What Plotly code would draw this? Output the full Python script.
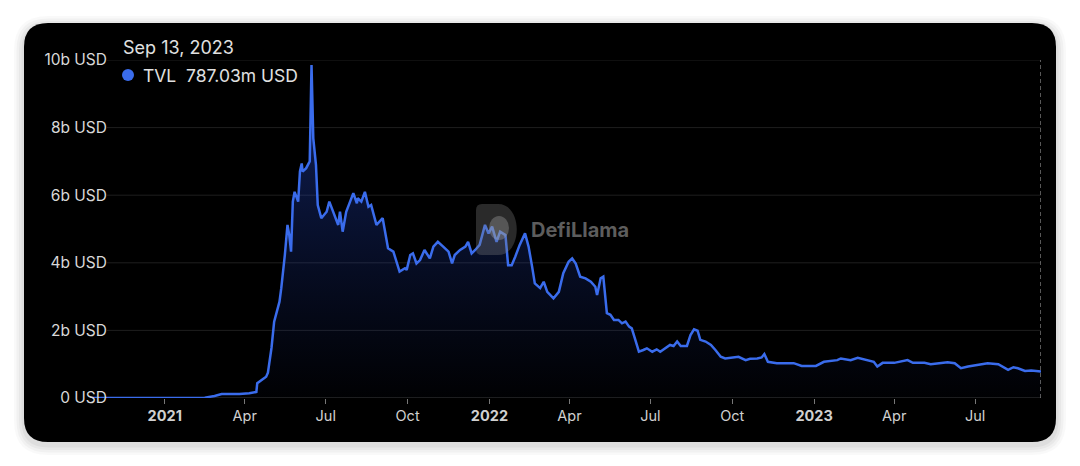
import plotly.graph_objects as go

W, H = 1080, 466

dates = [
    "2020-10-09", "2020-12-15", "2021-02-15", "2021-02-26", "2021-03-06", "2021-03-26",
    "2021-04-06", "2021-04-14", "2021-04-15", "2021-04-25", "2021-04-27", "2021-05-01",
    "2021-05-04", "2021-05-10", "2021-05-12", "2021-05-16", "2021-05-19", "2021-05-21",
    "2021-05-23", "2021-05-25", "2021-05-27", "2021-05-31", "2021-06-02", "2021-06-04",
    "2021-06-05", "2021-06-09", "2021-06-13", "2021-06-15", "2021-06-17", "2021-06-20",
    "2021-06-22", "2021-06-26", "2021-07-02", "2021-07-05", "2021-07-09", "2021-07-15",
    "2021-07-17", "2021-07-20", "2021-07-24", "2021-07-28", "2021-08-01", "2021-08-05",
    "2021-08-06", "2021-08-10", "2021-08-14", "2021-08-18", "2021-08-21", "2021-08-27",
    "2021-09-03", "2021-09-05", "2021-09-09", "2021-09-15", "2021-09-19", "2021-09-22",
    "2021-09-28", "2021-09-30", "2021-10-04", "2021-10-07", "2021-10-11", "2021-10-15",
    "2021-10-20", "2021-10-26", "2021-10-30", "2021-11-04", "2021-11-10", "2021-11-16",
    "2021-11-20", "2021-11-23", "2021-11-29", "2021-12-05", "2021-12-08", "2021-12-12",
    "2021-12-16", "2021-12-21", "2021-12-27", "2021-12-31", "2022-01-04", "2022-01-09",
    "2022-01-13", "2022-01-19", "2022-01-22", "2022-01-26", "2022-01-30", "2022-02-04",
    "2022-02-10", "2022-02-14", "2022-02-18", "2022-02-21", "2022-02-27", "2022-03-03",
    "2022-03-07", "2022-03-14", "2022-03-20", "2022-03-25", "2022-03-31", "2022-04-04",
    "2022-04-08", "2022-04-13", "2022-04-19", "2022-04-25", "2022-04-30", "2022-05-02",
    "2022-05-06", "2022-05-09", "2022-05-13", "2022-05-17", "2022-05-21", "2022-05-26",
    "2022-05-30", "2022-06-03", "2022-06-07", "2022-06-10", "2022-06-14", "2022-06-18",
    "2022-06-23", "2022-06-27", "2022-07-03", "2022-07-08", "2022-07-12", "2022-07-18",
    "2022-07-23", "2022-07-27", "2022-07-31", "2022-08-04", "2022-08-11", "2022-08-15",
    "2022-08-19", "2022-08-23", "2022-08-26", "2022-09-01", "2022-09-07", "2022-09-12",
    "2022-09-18", "2022-09-23", "2022-10-03", "2022-10-08", "2022-10-16", "2022-10-21",
    "2022-10-29", "2022-11-03", "2022-11-06", "2022-11-10", "2022-11-20", "2022-12-09",
    "2022-12-18", "2023-01-03", "2023-01-12", "2023-01-27", "2023-01-31", "2023-02-11",
    "2023-02-19", "2023-03-02", "2023-03-09", "2023-03-13", "2023-03-19", "2023-04-01",
    "2023-04-09", "2023-04-16", "2023-04-22", "2023-05-05", "2023-05-12", "2023-05-24",
    "2023-05-31", "2023-06-08", "2023-06-15", "2023-06-23", "2023-07-04", "2023-07-15",
    "2023-07-27", "2023-08-07", "2023-08-13", "2023-08-18", "2023-08-26", "2023-09-02",
    "2023-09-13",
]

tvl_b = [
    0.0, 0.0, 0.01, 0.06, 0.12, 0.12,
    0.14, 0.18, 0.44, 0.63, 0.75, 1.48,
    2.26, 2.85, 3.25, 4.23, 5.12, 4.82,
    4.33, 5.81, 6.10, 5.81, 6.70, 6.94,
    6.70, 6.80, 7.00, 9.85, 7.68, 6.90,
    5.71, 5.32, 5.51, 5.81, 5.51, 5.12,
    5.51, 4.92, 5.51, 5.76, 6.06, 5.76,
    5.91, 5.81, 6.10, 5.66, 5.71, 5.12,
    5.32, 5.02, 4.43, 4.33, 4.03, 3.74,
    3.84, 3.79, 4.23, 4.28, 3.98, 4.08,
    4.38, 4.13, 4.48, 4.62, 4.48, 4.33,
    3.98, 4.23, 4.38, 4.48, 4.62, 4.28,
    4.38, 4.53, 5.12, 4.87, 5.07, 4.62,
    4.92, 4.82, 3.93, 3.93, 4.18, 4.53,
    4.87, 4.48, 3.88, 3.39, 3.25, 3.44,
    3.14, 2.95, 3.14, 3.69, 4.03, 4.13,
    3.98, 3.59, 3.54, 3.44, 3.29, 3.05,
    3.54, 3.59, 2.51, 2.46, 2.31, 2.31,
    2.21, 2.26, 2.11, 2.06, 1.72, 1.37,
    1.42, 1.47, 1.37, 1.44, 1.37, 1.47,
    1.57, 1.54, 1.67, 1.54, 1.54, 1.86,
    2.03, 1.99, 1.72, 1.67, 1.57, 1.42,
    1.22, 1.17, 1.20, 1.22, 1.12, 1.16,
    1.17, 1.20, 1.30, 1.07, 1.03, 1.03,
    0.95, 0.95, 1.07, 1.12, 1.17, 1.12,
    1.19, 1.12, 1.07, 0.93, 1.04, 1.04,
    1.09, 1.12, 1.04, 1.04, 1.00, 1.03,
    1.06, 1.03, 0.88, 0.93, 0.98, 1.03,
    1.00, 0.83, 0.91, 0.88, 0.80, 0.81,
    0.78703,
]

y_tickvals = [0, 2, 4, 6, 8, 10]
y_ticktext = ["0 USD", "2b USD", "4b USD", "6b USD", "8b USD", "10b USD"]

x_tickvals = ["2021-01-01", "2021-04-01", "2021-07-01", "2021-10-01",
              "2022-01-01", "2022-04-01", "2022-07-01", "2022-10-01",
              "2023-01-01", "2023-04-01", "2023-07-01"]
x_ticktext = ["<b>2021</b>", "Apr", "Jul", "Oct",
              "<b>2022</b>", "Apr", "Jul", "Oct",
              "<b>2023</b>", "Apr", "Jul"]

header_date = "Sep 13, 2023"
header_value = "787.03m USD"

LINE = "#3a6cec"
FONT = "Inter, 'Liberation Sans', sans-serif"


def px(x):
    return x / W


def py(y):
    return 1 - y / H


def rrect(x0, y0, x1, y1, r):
    X0, X1 = px(x0), px(x1)
    Y0, Y1 = py(y0), py(y1)
    rx, ry = r / W, r / H
    return (f"M {X0+rx},{Y0} L {X1-rx},{Y0} Q {X1},{Y0} {X1},{Y0-ry} "
            f"L {X1},{Y1+ry} Q {X1},{Y1} {X1-rx},{Y1} "
            f"L {X0+rx},{Y1} Q {X0},{Y1} {X0},{Y1+ry} "
            f"L {X0},{Y0-ry} Q {X0},{Y0} {X0+rx},{Y0} Z")


PX0, PX1, PY0, PY1 = 90, 1041, 60, 398

shapes = []
# card shadow
for i, a in enumerate([0.025, 0.03, 0.035, 0.04]):
    g = 10 - i * 2.5
    shapes.append(dict(type="path", xref="paper", yref="paper",
                       path=rrect(24 - g, 23 - g + 3, 1056 + g, 442 + g + 3, 24 + g),
                       fillcolor=f"rgba(0,0,0,{a})", line=dict(width=0), layer="below"))
# card
shapes.append(dict(type="path", xref="paper", yref="paper",
                   path=rrect(24, 23, 1056, 442, 24),
                   fillcolor="#000000", line=dict(width=0), layer="below"))
# gridlines
for v in y_tickvals:
    shapes.append(dict(type="line", xref="paper", yref="y",
                       x0=px(107), x1=px(PX1), y0=v, y1=v,
                       line=dict(color="#3a3a3a" if v == 0 else "#1e1e1e", width=1),
                       layer="below"))
# crosshair at last point
shapes.append(dict(type="line", xref="x", yref="y", x0=dates[-1], x1=dates[-1],
                   y0=0, y1=10, line=dict(color="#b0b0b0", width=1, dash="4px,3px")))
# watermark logo (D shape)
lx0, ly0, lx1, ly1 = 476, 204, 521, 255
shapes.append(dict(type="path", xref="paper", yref="paper",
                   path=(f"M {px(lx0+6)},{py(ly0)} L {px(lx0+22)},{py(ly0)} "
                         f"C {px(lx1+2)},{py(ly0)} {px(lx1+2)},{py(ly1)} {px(lx0+22)},{py(ly1)} "
                         f"L {px(lx0+6)},{py(ly1)} Q {px(lx0)},{py(ly1)} {px(lx0)},{py(ly1-6)} "
                         f"L {px(lx0)},{py(ly0+6)} Q {px(lx0)},{py(ly0)} {px(lx0+6)},{py(ly0)} Z"),
                   fillcolor="rgba(130,130,130,0.32)", line=dict(width=0), layer="above"))
shapes.append(dict(type="circle", xref="paper", yref="paper",
                   x0=px(489), x1=px(509), y0=py(240), y1=py(216),
                   fillcolor="rgba(170,170,170,0.35)", line=dict(width=0), layer="above"))
# legend dot
shapes.append(dict(type="circle", xref="paper", yref="paper",
                   x0=px(122), x1=px(134), y0=py(81), y1=py(69),
                   fillcolor=LINE, line=dict(width=0)))

annotations = [
    dict(text=header_date, x=px(121), y=py(48), xref="paper", yref="paper",
         xanchor="left", yanchor="middle", showarrow=False,
         font=dict(family=FONT, size=18, color="#e0e0e0")),
    dict(text="TVL&nbsp;&nbsp;" + header_value, x=px(141), y=py(75), xref="paper", yref="paper",
         xanchor="left", yanchor="middle", showarrow=False,
         font=dict(family=FONT, size=17.5, color="#e0e0e0")),
    dict(text="<b>DefiLlama</b>", x=px(529), y=py(230), xref="paper", yref="paper",
         xanchor="left", yanchor="middle", showarrow=False,
         font=dict(family=FONT, size=20, color="rgba(125,125,125,0.75)")),
]

fig = go.Figure()
fig.add_trace(go.Scatter(
    x=dates, y=tvl_b, mode="lines",
    line=dict(color=LINE, width=2.5),
    fill="tozeroy",
    fillgradient=dict(type="vertical",
                      colorscale=[[0, "rgba(30,60,170,0.02)"], [1, "rgba(40,80,220,0.45)"]],
                      start=0, stop=10),
    hoverinfo="skip", showlegend=False,
))

fig.update_layout(
    width=W, height=H,
    autosize=False,
    margin=dict(l=0, r=0, t=0, b=0, pad=0, autoexpand=False),
    paper_bgcolor="#ffffff",
    plot_bgcolor="rgba(0,0,0,0)",
    showlegend=False,
    shapes=shapes,
    annotations=annotations,
    xaxis=dict(
        domain=[px(PX0), px(PX1)],
        range=[dates[0], dates[-1]],
        type="date", automargin=False,
        tickvals=x_tickvals, ticktext=x_ticktext,
        showgrid=False, zeroline=False, showline=False,
        ticks="outside", ticklen=5, tickcolor="#777777", tickwidth=1,
        tickfont=dict(family=FONT, size=14.5, color="#d0d0d0"),
    ),
    yaxis=dict(
        domain=[py(PY1), py(PY0)],
        range=[0, 10], automargin=False,
        anchor="free", position=px(107),
        tickvals=y_tickvals, ticktext=y_ticktext,
        showgrid=False, zeroline=False, showline=False,
        ticks="",
        tickfont=dict(family=FONT, size=15.5, color="#d8d8d8"),
    ),
)

fig.write_html("out.html")
